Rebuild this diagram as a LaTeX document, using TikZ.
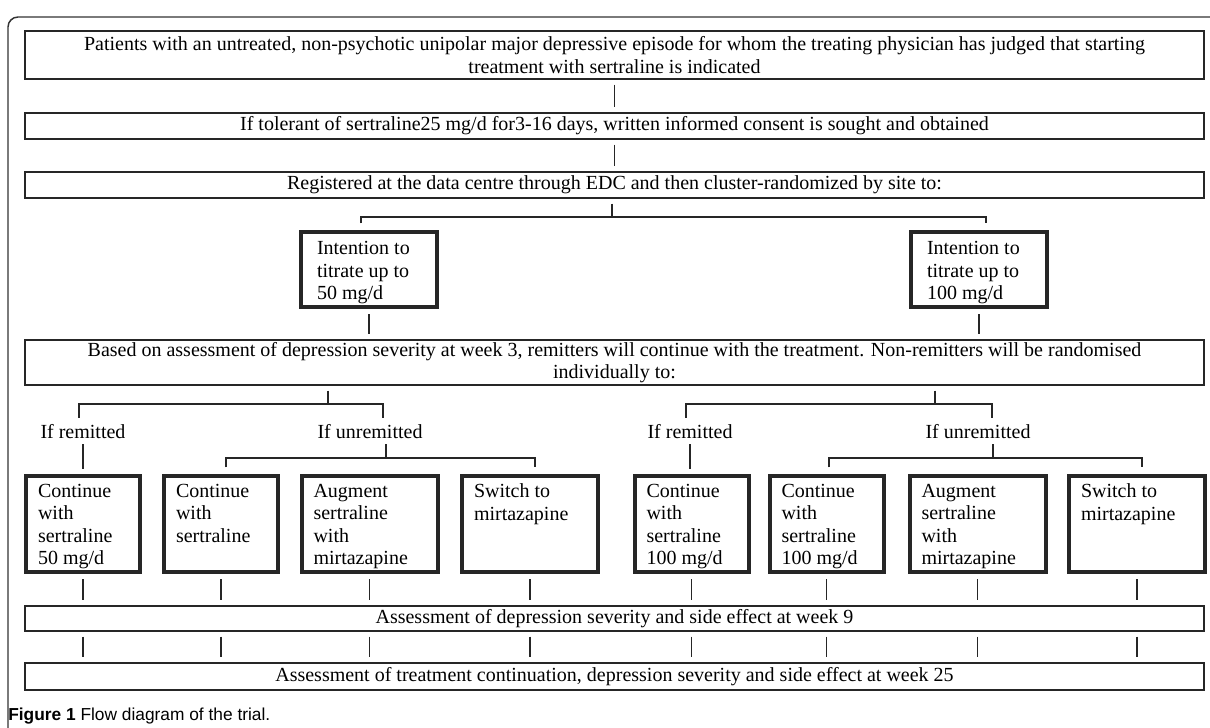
\documentclass[tikz,border=0pt]{standalone}
\usepackage{fontspec}
\setmainfont{Liberation Serif}
\newfontfamily\capfont{Liberation Sans}
\newcommand{\lvtext}[3]{\parbox[c][#2][t]{#1}{\raggedright #3}}
\begin{document}
\begin{tikzpicture}[x=0.75pt,y=0.75pt,yscale=-1,xscale=1,
  widebox/.style={draw=black!85, line width=1.1pt, inner sep=0pt, minimum width=884.25pt, align=center, font=\fontsize{15}{16.9}\selectfont},
  intbox/.style={draw=black!85, line width=3pt, inner xsep=12pt, inner ysep=7pt, font=\fontsize{15}{16.9}\selectfont},
  lvbox/.style={draw=black!85, line width=3pt, inner xsep=9pt, inner ysep=6pt, font=\fontsize{15}{16.9}\selectfont},
  lab/.style={inner sep=0pt, font=\fontsize{15}{16.9}\selectfont},
  link/.style={draw=black!85, line width=1.4pt, shorten <=3.75pt, shorten >=3.75pt},
  tick/.style={draw=black!85, line width=1.1pt, shorten <=3.75pt},
  bracket/.style={draw=black!85, line width=1.1pt, shorten <=5pt, shorten >=5pt}]
\useasboundingbox (0,0) rectangle (1210,728);

%Outer frame
\draw [black!80, line width=1.1pt, rounded corners=7.5pt] (8,728) -- (8,17) -- (1210,17) ;

%Wide boxes
\node [widebox, minimum height=36pt] (box1) at (614.5,55) {Patients with an untreated, non-psychotic unipolar major depressive episode for whom the treating physician has judged that starting\\treatment with sertraline is indicated};
\node [widebox, minimum height=19.5pt] (box2) at (614.5,126) {If tolerant of sertraline25 mg/d for3-16 days, written informed consent is sought and obtained};
\node [widebox, minimum height=19.5pt] (box3) at (614.5,185) {Registered at the data centre through EDC and then cluster-randomized by site to:};
\node [widebox, minimum height=33.75pt] (based) at (614.5,362.5) {Based on assessment of depression severity at week 3, remitters will continue with the treatment. Non-remitters will be randomised\\individually to:};
\node [widebox, minimum height=18.75pt] (wk9) at (614.5,618.5) {Assessment of depression severity and side effect at week 9};
\node [widebox, minimum height=20.25pt] (wk25) at (614.5,676.5) {Assessment of treatment continuation, depression severity and side effect at week 25};

%Intention boxes
\node [intbox] (intL) at (369,269.5) {\lvtext{78pt}{42.25pt}{Intention to\\titrate up to\\50 mg/d}};
\node [intbox] (intR) at (979,269.5) {\lvtext{78pt}{42.25pt}{Intention to\\titrate up to\\100 mg/d}};

%Branch labels
\node [lab] (remL) at (83,432) {If remitted};
\node [lab] (unremL) at (370,432) {If unremitted};
\node [lab] (remR) at (690,432) {If remitted};
\node [lab] (unremR) at (978,432) {If unremitted};

%Treatment boxes
\node [lvbox] (L1) at (83,524) {\lvtext{67.5pt}{60pt}{Continue\\with\\sertraline\\50 mg/d}};
\node [lvbox] (L2) at (221,524) {\lvtext{67.5pt}{60pt}{Continue\\with\\sertraline}};
\node [lvbox] (L3) at (369.5,524) {\lvtext{84pt}{60pt}{Augment\\sertraline\\with\\mirtazapine}};
\node [lvbox] (L4) at (530,524) {\lvtext{84pt}{60pt}{Switch to\\mirtazapine}};
\node [lvbox] (R1) at (691.5,524) {\lvtext{67.5pt}{60pt}{Continue\\with\\sertraline\\100 mg/d}};
\node [lvbox] (R2) at (826.5,524) {\lvtext{67.5pt}{60pt}{Continue\\with\\sertraline\\100 mg/d}};
\node [lvbox] (R3) at (977.5,524) {\lvtext{84pt}{60pt}{Augment\\sertraline\\with\\mirtazapine}};
\node [lvbox] (R4) at (1137,524) {\lvtext{84pt}{60pt}{Switch to\\mirtazapine}};

%Bracket corners
\coordinate (jA) at (612,217);
\coordinate (jA1) at (361,217);
\coordinate (jA2) at (986,217);
\coordinate (jB) at (328,404);
\coordinate (jB1) at (79,404);
\coordinate (jB2) at (383,404);
\coordinate (jC) at (386,458);
\coordinate (jC1) at (226,458);
\coordinate (jC2) at (535,458);
\coordinate (jD) at (935,404);
\coordinate (jD1) at (686,404);
\coordinate (jD2) at (992,404);
\coordinate (jE) at (993,458);
\coordinate (jE1) at (829,458);
\coordinate (jE2) at (1142,458);

%Connectors
\draw [link] (box1) -- (box2) ;
\draw [link] (box2) -- (box3) ;
\draw [tick] (box3.south -| jA) -- (jA) ;
\draw [bracket] (intL.north -| jA1) -- (jA1) -- (jA2) -- (intR.north -| jA2) ;
\draw [link] (intL) -- (intL |- based.north) ;
\draw [link] (intR) -- (intR |- based.north) ;
\draw [tick] (based.south -| jB) -- (jB) ;
\draw [bracket] (remL.north -| jB1) -- (jB1) -- (jB2) -- (unremL.north -| jB2) ;
\draw [tick] (based.south -| jD) -- (jD) ;
\draw [bracket] (remR.north -| jD1) -- (jD1) -- (jD2) -- (unremR.north -| jD2) ;
\draw [link] (remL) -- (remL |- L1.north) ;
\draw [link] (remR) -- (remR |- R1.north) ;
\draw [tick] (unremL.south -| jC) -- (jC) ;
\draw [bracket] (L2.north -| jC1) -- (jC1) -- (jC2) -- (L4.north -| jC2) ;
\draw [tick] (unremR.south -| jE) -- (jE) ;
\draw [bracket] (R2.north -| jE1) -- (jE1) -- (jE2) -- (R4.north -| jE2) ;
\foreach \n in {L1,L2,L3,L4,R1,R2,R3,R4} {
  \draw [link] (\n) -- (\n |- wk9.north) ;
  \draw [link] (wk9.south -| \n) -- (wk25.north -| \n) ;
}

% Caption
\node [anchor=west, inner sep=0pt, font=\capfont\fontsize{13}{15}\selectfont] (cap) at (8,716) {\textbf{Figure 1} Flow diagram of the trial.};
\end{tikzpicture}
\end{document}
